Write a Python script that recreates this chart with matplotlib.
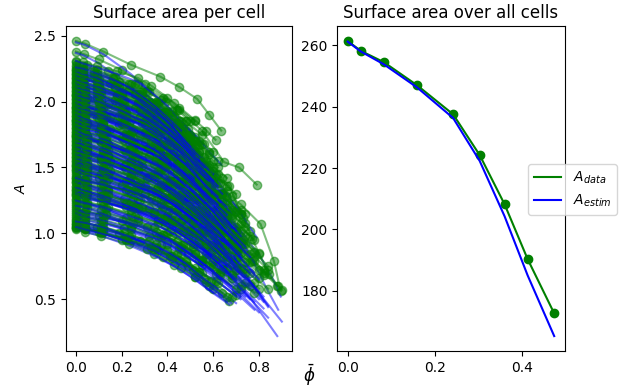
import matplotlib
matplotlib.use('Agg')
import matplotlib.pyplot as plt

# mean volume fraction and total surface area over all cells
phi_mean = [0.0, 0.03, 0.083, 0.159, 0.242, 0.303, 0.36, 0.413, 0.474]
A_total_data = [261.4, 258.2, 254.5, 247.0, 237.5, 224.2, 208.2, 190.3, 172.6]
A_total_estim = [261.2, 258.0, 253.8, 246.3, 236.3, 222.3, 204.3, 185.0, 165.2]

# per cell: phi, measured surface area, estimated surface area
cell_phi = [
    [0, .04, .11, .23, .34, .43, .52, .58, .67],
    [0, .04, .10, .20, .31, .38, .46, .52, .60],
    [0, .04, .12, .24, .36, .45, .54, .61, .70],
    [0, .03, .09, .19, .28, .35, .42, .48, .55],
    [0, .04, .12, .24, .37, .46, .55, .63, .72],
    [0, .04, .11, .21, .32, .40, .49, .55, .63],
    [0, .04, .13, .25, .38, .47, .57, .64, .74],
    [0, .04, .11, .22, .34, .42, .51, .57, .66],
    [0, .05, .14, .27, .41, .51, .62, .70, .80],
    [0, .04, .12, .24, .36, .45, .54, .61, .70],
    [0, .05, .13, .26, .39, .49, .59, .66, .76],
    [0, .04, .11, .21, .32, .40, .48, .54, .62],
    [0, .05, .14, .28, .42, .52, .63, .71, .82],
    [0, .04, .12, .24, .37, .46, .55, .63, .72],
    [0, .03, .10, .20, .30, .37, .45, .50, .58],
    [0, .05, .13, .27, .40, .50, .60, .68, .78],
    [0, .04, .12, .23, .35, .44, .52, .59, .68],
    [0, .05, .15, .30, .45, .56, .68, .77, .88],
    [0, .06, .15, .30, .45, .60, .72, .807, .865, .895],
    [0, .04, .13, .25, .38, .47, .57, .64, .74],
    [0, .04, .11, .21, .32, .40, .49, .55, .63],
    [0, .05, .15, .31, .46, .58, .69, .78, .90],
    [0, .04, .12, .24, .36, .45, .54, .61, .70],
    [0, .05, .15, .30, .45, .58, .72, .77, .843, .884],
    [0, .05, .14, .27, .41, .51, .62, .70, .80],
    [0, .04, .11, .22, .34, .42, .51, .57, .66],
    [0, .05, .14, .29, .43, .54, .65, .73, .84],
    [0, .05, .13, .26, .39, .49, .59, .655, .70],
    [0, .04, .12, .24, .37, .46, .55, .63, .72],
    [0, .04, .10, .20, .31, .38, .46, .52, .60],
    [0, .05, .13, .26, .39, .49, .59, .66, .76],
    [0, .04, .12, .23, .35, .44, .52, .59, .68],
    [0, .03, .09, .19, .28, .35, .42, .48, .55],
    [0, .05, .14, .28, .42, .52, .60, .67, .73],
    [0, .04, .13, .25, .38, .47, .57, .64, .74],
    [0, .04, .11, .21, .32, .40, .49, .55, .63],
    [0, .04, .12, .24, .36, .45, .54, .61, .70],
    [0, .03, .10, .20, .30, .37, .45, .50, .58],
    [0, .04, .11, .22, .34, .42, .51, .57, .66],
    [0, .05, .14, .27, .38, .45, .55, .648, .713, .79],
    [0, .03, .09, .17, .26, .32, .39, .44, .50],
    [0, .04, .11, .21, .32, .40, .48, .54, .62],
    [0, .03, .09, .19, .28, .35, .42, .48, .55],
    [0, .035, .10, .20, .30, .43, .52, .57, .61],
    [0, .04, .10, .20, .31, .38, .46, .52, .60],
    [0, .03, .08, .15, .23, .29, .35, .39, .45],
    [0, .03, .09, .19, .28, .35, .42, .48, .55],
    [0, .04, .12, .24, .368, .452, .53, .583, .635],
    [0, .03, .09, .17, .26, .32, .39, .44, .50],
    [0, .04, .11, .22, .33, .41, .49, .56, .64],
    [0, .04, .12, .23, .35, .44, .52, .59, .68],
    [0, .04, .12, .24, .36, .45, .54, .61, .70],
    [0, .04, .10, .20, .31, .38, .46, .52, .60],
    [0, .05, .13, .26, .39, .49, .59, .66, .76],
    [0, .04, .11, .22, .34, .42, .51, .57, .66],
    [0, .05, .13, .27, .40, .50, .60, .68, .78],
    [0, .04, .12, .24, .37, .46, .55, .63, .72],
    [0, .05, .14, .27, .41, .51, .62, .70, .80],
    [0, .04, .11, .22, .33, .41, .49, .56, .64],
    [0, .05, .13, .26, .39, .49, .59, .66, .76],
    [0, .04, .12, .24, .36, .45, .54, .61, .70],
    [0, .05, .14, .28, .42, .52, .63, .71, .82],
    [0, .04, .12, .24, .37, .46, .55, .63, .72],
    [0, .04, .11, .22, .34, .42, .51, .57, .66],
    [0, .05, .13, .27, .40, .50, .60, .68, .78],
    [0, .04, .12, .24, .36, .45, .54, .61, .70],
    [0, .05, .14, .29, .43, .54, .65, .73, .84],
    [0, .04, .13, .25, .38, .47, .57, .64, .74],
    [0, .04, .11, .21, .32, .40, .48, .54, .62],
    [0, .05, .13, .27, .40, .50, .60, .68, .78],
    [0, .04, .12, .23, .35, .44, .52, .59, .68],
    [0, .04, .13, .25, .38, .47, .57, .64, .74],
    [0, .04, .11, .22, .33, .41, .49, .56, .64],
    [0, .04, .12, .24, .37, .46, .55, .63, .72],
    [0, .04, .10, .20, .31, .38, .46, .52, .60],
    [0, .04, .12, .23, .35, .44, .52, .59, .68],
    [0, .04, .10, .19, .29, .36, .43, .49, .56],
    [0, .04, .11, .22, .34, .42, .51, .57, .66],
    [0, .04, .11, .21, .32, .40, .48, .54, .62],
    [0, .03, .09, .18, .28, .35, .42, .47, .54],
    [0, .04, .10, .20, .31, .38, .46, .52, .60],
    [0, .03, .09, .18, .27, .33, .40, .45, .52],
    [0, .03, .10, .20, .30, .37, .45, .50, .58],
    [0, .03, .09, .17, .26, .32, .39, .44, .50],
    [0, .03, .10, .19, .29, .36, .43, .49, .56],
    [0, .03, .08, .16, .24, .31, .37, .42, .48],
    [0, .03, .09, .18, .27, .33, .40, .45, .52],
    [0, .04, .11, .22, .34, .42, .51, .57, .66],
    [0, .04, .11, .21, .32, .40, .48, .54, .62],
    [0, .04, .12, .24, .37, .46, .55, .63, .72],
    [0, .04, .12, .23, .35, .44, .52, .59, .68],
    [0, .05, .13, .27, .40, .50, .60, .68, .78],
    [0, .04, .12, .24, .36, .45, .54, .61, .70],
    [0, .04, .13, .25, .38, .47, .57, .64, .74],
    [0, .04, .11, .22, .34, .42, .51, .57, .66],
    [0, .05, .14, .29, .43, .54, .65, .73, .84],
    [0, .04, .13, .25, .38, .47, .57, .64, .74],
    [0, .04, .12, .23, .35, .44, .52, .59, .68],
    [0, .05, .14, .27, .41, .51, .62, .70, .80],
    [0, .04, .11, .22, .33, .41, .49, .56, .64],
    [0, .05, .13, .26, .39, .49, .59, .66, .76],
    [0, .04, .12, .24, .36, .45, .54, .61, .70],
    [0, .05, .14, .28, .42, .52, .63, .71, .82],
    [0, .04, .12, .24, .37, .46, .55, .63, .72],
    [0, .04, .11, .22, .34, .42, .51, .57, .66],
    [0, .05, .14, .27, .41, .51, .62, .70, .80],
    [0, .04, .12, .24, .37, .46, .55, .63, .72],
    [0, .05, .13, .26, .39, .49, .59, .66, .76],
    [0, .04, .12, .23, .35, .44, .52, .59, .68],
    [0, .04, .13, .25, .38, .47, .57, .64, .74],
    [0, .04, .11, .21, .32, .40, .48, .54, .62],
    [0, .04, .12, .24, .36, .45, .54, .61, .70],
    [0, .04, .11, .22, .34, .42, .51, .57, .66],
    [0, .04, .12, .24, .37, .46, .55, .63, .72],
    [0, .04, .11, .21, .32, .40, .48, .54, .62],
    [0, .04, .11, .22, .34, .42, .51, .57, .66],
    [0, .03, .10, .20, .30, .37, .45, .50, .58],
    [0, .04, .11, .22, .33, .41, .49, .56, .64],
    [0, .04, .10, .20, .31, .38, .46, .52, .60],
    [0, .04, .10, .19, .29, .36, .43, .49, .56],
    [0, .04, .11, .21, .32, .40, .48, .54, .62],
    [0, .03, .09, .18, .27, .33, .40, .45, .52],
    [0, .03, .10, .20, .30, .37, .45, .50, .58],
    [0, .03, .09, .17, .26, .32, .39, .44, .50],
    [0, .03, .09, .18, .28, .35, .42, .47, .54],
    [0, .03, .08, .16, .23, .29, .35, .40, .46],
]
cell_A_data = [
    [1.03, 1.01, .98, .92, .84, .76, .67, .60, .49],
    [1.05, 1.04, 1.01, .95, .88, .82, .74, .67, .58],
    [1.06, 1.04, 1.01, .95, .87, .80, .71, .64, .53],
    [1.08, 1.07, 1.05, 1.00, .94, .89, .83, .78, .70],
    [1.10, 1.08, 1.05, .99, .91, .84, .76, .68, .58],
    [1.13, 1.12, 1.09, 1.04, .98, .92, .85, .79, .70],
    [1.19, 1.17, 1.14, 1.07, .99, .91, .81, .73, .62],
    [1.22, 1.21, 1.18, 1.12, 1.05, .98, .90, .84, .74],
    [1.26, 1.24, 1.20, 1.12, 1.02, .92, .81, .72, .58],
    [1.29, 1.28, 1.24, 1.18, 1.11, 1.04, .95, .88, .78],
    [1.33, 1.31, 1.27, 1.20, 1.10, 1.02, .91, .83, .70],
    [1.36, 1.35, 1.32, 1.26, 1.19, 1.13, 1.06, .99, .90],
    [1.40, 1.38, 1.34, 1.25, 1.14, 1.04, .93, .82, .68],
    [1.43, 1.41, 1.38, 1.31, 1.22, 1.14, 1.05, .97, .85],
    [1.46, 1.45, 1.42, 1.37, 1.31, 1.26, 1.19, 1.13, 1.05],
    [1.50, 1.48, 1.44, 1.36, 1.26, 1.16, 1.05, .96, .82],
    [1.53, 1.51, 1.48, 1.41, 1.33, 1.26, 1.17, 1.09, .98],
    [1.56, 1.53, 1.47, 1.36, 1.21, 1.08, .93, .79, .60],
    [1.95, 1.93, 1.88, 1.77, 1.60, 1.38, 1.22, 1.07, .79, .56],
    [1.59, 1.57, 1.53, 1.45, 1.35, 1.26, 1.15, 1.05, .92],
    [1.62, 1.60, 1.57, 1.51, 1.43, 1.36, 1.28, 1.20, 1.10],
    [1.65, 1.62, 1.55, 1.42, 1.26, 1.11, .94, .79, .57],
    [1.68, 1.66, 1.62, 1.55, 1.45, 1.37, 1.26, 1.18, 1.05],
    [1.85, 1.83, 1.79, 1.69, 1.54, 1.36, 1.18, .96, .69, .60],
    [1.71, 1.68, 1.63, 1.53, 1.40, 1.28, 1.14, 1.02, .85],
    [1.74, 1.72, 1.69, 1.62, 1.53, 1.45, 1.36, 1.28, 1.16],
    [1.77, 1.74, 1.68, 1.56, 1.40, 1.26, 1.10, .95, .75],
    [1.75, 1.73, 1.69, 1.61, 1.51, 1.42, 1.33, 1.28, 1.17],
    [1.80, 1.78, 1.74, 1.65, 1.54, 1.44, 1.33, 1.22, 1.08],
    [1.83, 1.81, 1.78, 1.72, 1.64, 1.57, 1.48, 1.41, 1.30],
    [1.86, 1.84, 1.78, 1.68, 1.56, 1.44, 1.31, 1.19, 1.02],
    [1.89, 1.87, 1.83, 1.75, 1.65, 1.56, 1.45, 1.35, 1.22],
    [1.92, 1.91, 1.88, 1.82, 1.75, 1.69, 1.61, 1.54, 1.45],
    [2.05, 2.03, 1.98, 1.88, 1.73, 1.60, 1.47, 1.36, 1.12],
    [1.95, 1.93, 1.88, 1.78, 1.66, 1.55, 1.42, 1.31, 1.15],
    [1.98, 1.96, 1.93, 1.85, 1.76, 1.68, 1.58, 1.50, 1.38],
    [2.01, 1.99, 1.95, 1.86, 1.75, 1.66, 1.54, 1.44, 1.30],
    [2.04, 2.02, 1.99, 1.93, 1.85, 1.78, 1.70, 1.62, 1.52],
    [2.07, 2.05, 2.01, 1.93, 1.84, 1.75, 1.64, 1.55, 1.42],
    [2.30, 2.28, 2.23, 2.13, 2.03, 1.94, 1.78, 1.54, 1.50, 1.37],
    [2.10, 2.09, 2.06, 2.01, 1.95, 1.89, 1.82, 1.76, 1.68],
    [2.13, 2.11, 2.08, 2.01, 1.92, 1.84, 1.75, 1.67, 1.55],
    [2.16, 2.15, 2.12, 2.06, 1.99, 1.92, 1.84, 1.78, 1.68],
    [2.38, 2.36, 2.32, 2.24, 2.13, 1.99, 1.86, 1.78, 1.71],
    [2.19, 2.17, 2.14, 2.07, 1.99, 1.91, 1.81, 1.73, 1.62],
    [2.22, 2.21, 2.19, 2.14, 2.09, 2.04, 1.98, 1.92, 1.85],
    [2.25, 2.24, 2.21, 2.15, 2.07, 2.00, 1.92, 1.85, 1.75],
    [2.46, 2.44, 2.38, 2.28, 2.19, 2.11, 2.02, 1.90, 1.78],
    [2.28, 2.27, 2.24, 2.19, 2.13, 2.07, 2.00, 1.94, 1.85],
    [1.04, 1.03, 1.00, .96, .90, .83, .75, .65, .55],
    [1.07, 1.05, 1.03, .98, .92, .84, .74, .64, .52],
    [1.12, 1.10, 1.08, 1.03, .97, .89, .80, .69, .58],
    [1.16, 1.15, 1.13, 1.09, 1.05, .99, .91, .84, .75],
    [1.24, 1.22, 1.19, 1.13, 1.06, .97, .86, .73, .60],
    [1.28, 1.27, 1.24, 1.20, 1.15, 1.08, .99, .90, .80],
    [1.31, 1.29, 1.26, 1.19, 1.12, 1.02, .90, .77, .62],
    [1.34, 1.32, 1.29, 1.24, 1.17, 1.09, .98, .87, .74],
    [1.38, 1.36, 1.32, 1.26, 1.18, 1.08, .95, .81, .66],
    [1.41, 1.40, 1.37, 1.33, 1.27, 1.20, 1.12, 1.02, .92],
    [1.44, 1.42, 1.39, 1.33, 1.26, 1.16, 1.04, .92, .78],
    [1.48, 1.46, 1.43, 1.38, 1.32, 1.24, 1.13, 1.02, .90],
    [1.51, 1.49, 1.45, 1.37, 1.28, 1.17, 1.02, .87, .70],
    [1.55, 1.53, 1.50, 1.44, 1.37, 1.29, 1.17, 1.05, .92],
    [1.58, 1.56, 1.54, 1.49, 1.43, 1.36, 1.26, 1.16, 1.05],
    [1.61, 1.59, 1.55, 1.48, 1.40, 1.30, 1.16, 1.02, .86],
    [1.64, 1.62, 1.59, 1.53, 1.47, 1.38, 1.27, 1.15, 1.02],
    [1.67, 1.64, 1.59, 1.51, 1.40, 1.27, 1.10, .92, .72],
    [1.70, 1.68, 1.64, 1.58, 1.50, 1.40, 1.27, 1.13, .98],
    [1.73, 1.72, 1.69, 1.64, 1.59, 1.52, 1.42, 1.33, 1.22],
    [1.76, 1.74, 1.70, 1.62, 1.53, 1.42, 1.27, 1.12, .95],
    [1.79, 1.77, 1.74, 1.69, 1.62, 1.53, 1.42, 1.31, 1.18],
    [1.82, 1.80, 1.76, 1.69, 1.61, 1.51, 1.38, 1.24, 1.08],
    [1.85, 1.83, 1.81, 1.76, 1.70, 1.62, 1.52, 1.42, 1.30],
    [1.88, 1.86, 1.82, 1.76, 1.68, 1.57, 1.44, 1.30, 1.15],
    [1.91, 1.90, 1.87, 1.83, 1.77, 1.70, 1.62, 1.52, 1.42],
    [1.94, 1.92, 1.89, 1.83, 1.76, 1.66, 1.54, 1.42, 1.28],
    [1.97, 1.96, 1.93, 1.89, 1.84, 1.78, 1.70, 1.61, 1.52],
    [2.00, 1.98, 1.95, 1.89, 1.82, 1.73, 1.62, 1.49, 1.36],
    [2.03, 2.01, 1.98, 1.93, 1.87, 1.79, 1.68, 1.57, 1.45],
    [2.06, 2.05, 2.03, 1.99, 1.94, 1.88, 1.80, 1.71, 1.62],
    [2.09, 2.07, 2.05, 2.00, 1.94, 1.86, 1.77, 1.66, 1.55],
    [2.12, 2.11, 2.09, 2.05, 2.00, 1.94, 1.87, 1.79, 1.70],
    [2.15, 2.13, 2.11, 2.06, 2.00, 1.93, 1.83, 1.73, 1.62],
    [2.18, 2.17, 2.15, 2.11, 2.06, 2.00, 1.92, 1.84, 1.75],
    [2.21, 2.19, 2.17, 2.12, 2.06, 1.99, 1.89, 1.79, 1.68],
    [2.24, 2.23, 2.21, 2.17, 2.13, 2.08, 2.01, 1.93, 1.85],
    [2.31, 2.30, 2.27, 2.23, 2.18, 2.12, 2.03, 1.95, 1.85],
    [1.05, 1.03, 1.01, .95, .88, .81, .72, .63, .52],
    [1.09, 1.08, 1.05, 1.00, .94, .87, .79, .71, .62],
    [1.15, 1.13, 1.10, 1.05, .97, .90, .80, .71, .60],
    [1.18, 1.16, 1.14, 1.08, 1.01, .94, .85, .76, .66],
    [1.21, 1.19, 1.15, 1.09, 1.00, .91, .79, .68, .55],
    [1.25, 1.23, 1.21, 1.15, 1.08, 1.01, .92, .83, .72],
    [1.30, 1.28, 1.25, 1.19, 1.11, 1.02, .92, .82, .70],
    [1.32, 1.31, 1.28, 1.23, 1.16, 1.09, 1.01, .92, .82],
    [1.35, 1.33, 1.29, 1.20, 1.10, 1.00, .87, .73, .58],
    [1.39, 1.37, 1.34, 1.27, 1.20, 1.11, 1.01, .90, .78],
    [1.42, 1.40, 1.37, 1.32, 1.25, 1.17, 1.08, .99, .88],
    [1.47, 1.45, 1.41, 1.33, 1.23, 1.13, 1.00, .87, .72],
    [1.49, 1.48, 1.45, 1.40, 1.33, 1.27, 1.18, 1.10, 1.00],
    [1.52, 1.50, 1.46, 1.39, 1.30, 1.21, 1.09, .98, .84],
    [1.54, 1.52, 1.49, 1.43, 1.35, 1.27, 1.17, 1.07, .95],
    [1.57, 1.54, 1.50, 1.41, 1.30, 1.18, 1.03, .89, .72],
    [1.60, 1.58, 1.55, 1.48, 1.39, 1.30, 1.19, 1.08, .95],
    [1.63, 1.61, 1.58, 1.53, 1.45, 1.38, 1.28, 1.19, 1.08],
    [1.66, 1.64, 1.59, 1.50, 1.40, 1.28, 1.14, 1.00, .84],
    [1.69, 1.67, 1.63, 1.56, 1.48, 1.38, 1.27, 1.15, 1.02],
    [1.72, 1.70, 1.66, 1.58, 1.48, 1.38, 1.25, 1.13, .98],
    [1.75, 1.73, 1.70, 1.63, 1.55, 1.47, 1.37, 1.26, 1.14],
    [1.78, 1.76, 1.72, 1.64, 1.55, 1.44, 1.32, 1.20, 1.05],
    [1.81, 1.80, 1.77, 1.71, 1.65, 1.58, 1.49, 1.40, 1.30],
    [1.84, 1.82, 1.78, 1.71, 1.62, 1.53, 1.41, 1.30, 1.16],
    [1.87, 1.85, 1.82, 1.75, 1.67, 1.59, 1.48, 1.37, 1.25],
    [1.90, 1.88, 1.84, 1.76, 1.66, 1.56, 1.43, 1.30, 1.15],
    [1.93, 1.91, 1.88, 1.83, 1.75, 1.68, 1.58, 1.49, 1.38],
    [1.96, 1.94, 1.91, 1.84, 1.76, 1.67, 1.56, 1.45, 1.32],
    [1.99, 1.98, 1.95, 1.89, 1.83, 1.76, 1.67, 1.58, 1.48],
    [2.02, 2.00, 1.97, 1.91, 1.83, 1.74, 1.64, 1.54, 1.42],
    [2.05, 2.03, 2.00, 1.95, 1.87, 1.80, 1.70, 1.61, 1.50],
    [2.08, 2.07, 2.04, 1.99, 1.92, 1.85, 1.77, 1.68, 1.58],
    [2.11, 2.09, 2.06, 1.99, 1.92, 1.83, 1.73, 1.62, 1.50],
    [2.14, 2.13, 2.10, 2.05, 1.99, 1.93, 1.85, 1.77, 1.68],
    [2.17, 2.15, 2.12, 2.06, 1.99, 1.91, 1.81, 1.71, 1.60],
    [2.20, 2.19, 2.16, 2.11, 2.06, 1.99, 1.92, 1.84, 1.75],
    [2.23, 2.21, 2.19, 2.13, 2.06, 1.99, 1.90, 1.81, 1.70],
    [2.26, 2.25, 2.23, 2.18, 2.13, 2.07, 2.00, 1.93, 1.85],
]
cell_A_estim = [
    [1.03, 1.01, .98, .91, .83, .75, .65, .57, .46],
    [1.05, 1.04, 1.01, .95, .87, .80, .72, .65, .55],
    [1.06, 1.04, 1.01, .94, .85, .77, .67, .59, .47],
    [1.08, 1.07, 1.04, 1.00, .94, .88, .82, .76, .68],
    [1.10, 1.08, 1.05, .97, .88, .80, .70, .62, .50],
    [1.13, 1.12, 1.09, 1.03, .96, .90, .82, .75, .66],
    [1.19, 1.17, 1.13, 1.05, .95, .86, .75, .65, .52],
    [1.22, 1.20, 1.17, 1.11, 1.03, .95, .86, .79, .68],
    [1.26, 1.23, 1.18, 1.08, .95, .83, .69, .57, .40],
    [1.29, 1.27, 1.24, 1.17, 1.08, 1.00, .90, .82, .70],
    [1.33, 1.31, 1.26, 1.17, 1.06, .96, .84, .73, .58],
    [1.36, 1.35, 1.31, 1.25, 1.18, 1.11, 1.02, .95, .85],
    [1.40, 1.37, 1.31, 1.20, 1.05, .92, .76, .62, .43],
    [1.43, 1.41, 1.37, 1.29, 1.19, 1.09, .98, .89, .75],
    [1.46, 1.45, 1.42, 1.36, 1.29, 1.23, 1.16, 1.09, 1.00],
    [1.50, 1.47, 1.42, 1.32, 1.20, 1.08, .95, .83, .66],
    [1.53, 1.51, 1.47, 1.40, 1.30, 1.22, 1.11, 1.03, .90],
    [1.56, 1.52, 1.44, 1.28, 1.08, .89, .68, .49, .22],
    [1.94, 1.92, 1.86, 1.73, 1.53, 1.26, 1.02, .82, .64, .52],
    [1.59, 1.57, 1.52, 1.42, 1.31, 1.20, 1.07, .96, .80],
    [1.62, 1.60, 1.57, 1.50, 1.41, 1.33, 1.24, 1.16, 1.04],
    [1.65, 1.61, 1.53, 1.37, 1.18, .99, .78, .59, .33],
    [1.68, 1.66, 1.61, 1.53, 1.42, 1.32, 1.20, 1.10, .95],
    [1.84, 1.82, 1.77, 1.64, 1.45, 1.23, .96, .80, .55, .42],
    [1.71, 1.68, 1.61, 1.49, 1.33, 1.18, 1.00, .85, .64],
    [1.74, 1.72, 1.68, 1.60, 1.50, 1.41, 1.30, 1.21, 1.08],
    [1.77, 1.73, 1.65, 1.49, 1.29, 1.11, .89, .71, .44],
    [1.74, 1.72, 1.67, 1.56, 1.41, 1.28, 1.12, 1.01, .92],
    [1.80, 1.77, 1.72, 1.62, 1.49, 1.38, 1.24, 1.12, .95],
    [1.83, 1.81, 1.78, 1.71, 1.62, 1.54, 1.44, 1.36, 1.24],
    [1.86, 1.83, 1.77, 1.65, 1.50, 1.36, 1.19, 1.05, .85],
    [1.89, 1.87, 1.82, 1.73, 1.61, 1.51, 1.38, 1.27, 1.12],
    [1.92, 1.90, 1.87, 1.81, 1.73, 1.66, 1.58, 1.50, 1.40],
    [2.04, 2.02, 1.96, 1.83, 1.64, 1.47, 1.31, 1.15, .98],
    [1.95, 1.92, 1.86, 1.75, 1.60, 1.47, 1.31, 1.17, .98],
    [1.98, 1.96, 1.92, 1.83, 1.73, 1.63, 1.52, 1.42, 1.28],
    [2.01, 1.98, 1.93, 1.83, 1.70, 1.58, 1.44, 1.32, 1.15],
    [2.04, 2.02, 1.99, 1.92, 1.83, 1.75, 1.65, 1.57, 1.45],
    [2.07, 2.05, 2.00, 1.91, 1.79, 1.69, 1.56, 1.45, 1.30],
    [2.29, 2.27, 2.20, 2.06, 1.89, 1.77, 1.57, 1.33, 1.17, .97],
    [2.10, 2.09, 2.06, 2.00, 1.93, 1.86, 1.78, 1.72, 1.62],
    [2.13, 2.11, 2.07, 1.99, 1.88, 1.79, 1.68, 1.58, 1.44],
    [2.16, 2.14, 2.11, 2.04, 1.95, 1.87, 1.78, 1.70, 1.58],
    [2.37, 2.35, 2.29, 2.17, 2.02, 1.78, 1.60, 1.50, 1.42],
    [2.19, 2.17, 2.13, 2.04, 1.93, 1.84, 1.72, 1.62, 1.48],
    [2.22, 2.21, 2.18, 2.13, 2.07, 2.01, 1.94, 1.88, 1.80],
    [2.25, 2.23, 2.19, 2.11, 2.02, 1.93, 1.82, 1.73, 1.60],
    [2.45, 2.43, 2.36, 2.21, 2.01, 1.87, 1.73, 1.62, 1.52],
    [2.28, 2.26, 2.23, 2.16, 2.08, 2.00, 1.91, 1.83, 1.72],
    [1.04, 1.02, 1.00, .95, .89, .82, .73, .63, .52],
    [1.07, 1.05, 1.02, .97, .90, .82, .71, .60, .47],
    [1.12, 1.10, 1.07, 1.02, .95, .87, .76, .65, .52],
    [1.16, 1.15, 1.12, 1.09, 1.04, .98, .90, .81, .72],
    [1.24, 1.22, 1.18, 1.11, 1.03, .93, .80, .66, .50],
    [1.28, 1.26, 1.24, 1.19, 1.13, 1.06, .96, .86, .75],
    [1.31, 1.29, 1.24, 1.17, 1.08, .96, .81, .65, .48],
    [1.34, 1.32, 1.29, 1.22, 1.15, 1.05, .93, .80, .66],
    [1.38, 1.35, 1.31, 1.23, 1.13, 1.01, .85, .69, .50],
    [1.41, 1.39, 1.37, 1.32, 1.26, 1.19, 1.09, .99, .88],
    [1.44, 1.42, 1.38, 1.31, 1.22, 1.11, .97, .82, .66],
    [1.48, 1.46, 1.43, 1.37, 1.30, 1.20, 1.08, .96, .82],
    [1.51, 1.48, 1.43, 1.33, 1.22, 1.08, .89, .70, .48],
    [1.55, 1.53, 1.49, 1.43, 1.35, 1.24, 1.11, .97, .82],
    [1.58, 1.56, 1.53, 1.48, 1.41, 1.33, 1.22, 1.11, .98],
    [1.61, 1.58, 1.54, 1.46, 1.36, 1.23, 1.06, .89, .70],
    [1.64, 1.62, 1.58, 1.52, 1.44, 1.34, 1.21, 1.07, .92],
    [1.67, 1.63, 1.57, 1.46, 1.33, 1.16, .94, .71, .45],
    [1.70, 1.67, 1.63, 1.56, 1.46, 1.34, 1.19, 1.03, .85],
    [1.73, 1.71, 1.68, 1.63, 1.57, 1.49, 1.38, 1.27, 1.15],
    [1.76, 1.73, 1.68, 1.59, 1.49, 1.35, 1.17, .99, .78],
    [1.79, 1.77, 1.73, 1.67, 1.59, 1.49, 1.36, 1.23, 1.08],
    [1.82, 1.79, 1.75, 1.67, 1.57, 1.45, 1.29, 1.13, .94],
    [1.85, 1.83, 1.80, 1.74, 1.67, 1.59, 1.47, 1.35, 1.22],
    [1.88, 1.85, 1.81, 1.73, 1.63, 1.51, 1.35, 1.19, 1.00],
    [1.91, 1.89, 1.87, 1.82, 1.75, 1.68, 1.57, 1.47, 1.35],
    [1.94, 1.92, 1.88, 1.81, 1.72, 1.61, 1.47, 1.32, 1.15],
    [1.97, 1.96, 1.93, 1.88, 1.83, 1.76, 1.66, 1.57, 1.46],
    [2.00, 1.98, 1.94, 1.87, 1.79, 1.68, 1.54, 1.40, 1.24],
    [2.03, 2.01, 1.98, 1.91, 1.84, 1.74, 1.62, 1.49, 1.35],
    [2.06, 2.05, 2.02, 1.97, 1.92, 1.85, 1.75, 1.66, 1.55],
    [2.09, 2.07, 2.04, 1.98, 1.91, 1.82, 1.71, 1.58, 1.45],
    [2.12, 2.11, 2.08, 2.04, 1.98, 1.91, 1.83, 1.73, 1.63],
    [2.15, 2.13, 2.10, 2.04, 1.97, 1.88, 1.76, 1.64, 1.50],
    [2.18, 2.17, 2.14, 2.10, 2.04, 1.97, 1.88, 1.79, 1.68],
    [2.21, 2.19, 2.16, 2.10, 2.03, 1.94, 1.82, 1.70, 1.56],
    [2.24, 2.23, 2.20, 2.16, 2.11, 2.05, 1.96, 1.88, 1.78],
    [2.31, 2.29, 2.26, 2.21, 2.15, 2.07, 1.97, 1.86, 1.74],
    [1.05, 1.03, 1.00, .94, .87, .79, .69, .59, .48],
    [1.09, 1.08, 1.05, .99, .93, .86, .77, .68, .58],
    [1.15, 1.13, 1.10, 1.03, .95, .86, .75, .65, .52],
    [1.18, 1.16, 1.13, 1.07, .99, .91, .82, .72, .60],
    [1.21, 1.19, 1.14, 1.06, .96, .85, .71, .58, .42],
    [1.25, 1.23, 1.20, 1.13, 1.06, .97, .87, .76, .64],
    [1.30, 1.28, 1.24, 1.17, 1.08, .98, .86, .74, .60],
    [1.32, 1.30, 1.27, 1.21, 1.14, 1.06, .97, .87, .76],
    [1.35, 1.32, 1.27, 1.16, 1.03, .89, .73, .56, .36],
    [1.39, 1.37, 1.33, 1.25, 1.16, 1.05, .93, .81, .66],
    [1.42, 1.40, 1.37, 1.30, 1.22, 1.14, 1.03, .92, .80],
    [1.47, 1.44, 1.39, 1.30, 1.18, 1.05, .89, .73, .55],
    [1.49, 1.47, 1.44, 1.39, 1.31, 1.24, 1.14, 1.05, .94],
    [1.52, 1.50, 1.45, 1.36, 1.26, 1.14, 1.00, .86, .70],
    [1.54, 1.52, 1.48, 1.41, 1.32, 1.22, 1.11, .99, .85],
    [1.57, 1.54, 1.48, 1.37, 1.23, 1.09, .91, .73, .52],
    [1.60, 1.58, 1.54, 1.46, 1.36, 1.25, 1.12, .99, .84],
    [1.63, 1.61, 1.58, 1.51, 1.43, 1.34, 1.23, 1.13, 1.00],
    [1.66, 1.63, 1.57, 1.47, 1.34, 1.20, 1.02, .85, .65],
    [1.69, 1.67, 1.62, 1.54, 1.44, 1.33, 1.19, 1.06, .90],
    [1.72, 1.69, 1.64, 1.55, 1.43, 1.31, 1.15, 1.00, .82],
    [1.75, 1.73, 1.69, 1.61, 1.52, 1.42, 1.30, 1.18, 1.04],
    [1.78, 1.75, 1.71, 1.61, 1.50, 1.38, 1.23, 1.08, .90],
    [1.81, 1.79, 1.76, 1.70, 1.62, 1.54, 1.44, 1.34, 1.22],
    [1.84, 1.82, 1.77, 1.68, 1.58, 1.46, 1.32, 1.18, 1.02],
    [1.87, 1.85, 1.81, 1.73, 1.64, 1.53, 1.41, 1.29, 1.14],
    [1.90, 1.87, 1.82, 1.73, 1.61, 1.48, 1.32, 1.16, .98],
    [1.93, 1.91, 1.88, 1.81, 1.72, 1.63, 1.52, 1.41, 1.28],
    [1.96, 1.94, 1.90, 1.82, 1.72, 1.61, 1.48, 1.35, 1.20],
    [1.99, 1.97, 1.94, 1.88, 1.80, 1.72, 1.62, 1.52, 1.40],
    [2.02, 2.00, 1.96, 1.88, 1.79, 1.69, 1.57, 1.44, 1.30],
    [2.05, 2.03, 2.00, 1.93, 1.84, 1.75, 1.64, 1.53, 1.40],
    [2.08, 2.06, 2.03, 1.97, 1.89, 1.81, 1.72, 1.62, 1.50],
    [2.11, 2.09, 2.05, 1.97, 1.87, 1.77, 1.64, 1.51, 1.36],
    [2.14, 2.12, 2.09, 2.04, 1.97, 1.89, 1.80, 1.71, 1.60],
    [2.17, 2.15, 2.11, 2.04, 1.95, 1.85, 1.73, 1.62, 1.48],
    [2.20, 2.18, 2.15, 2.10, 2.03, 1.95, 1.86, 1.77, 1.66],
    [2.23, 2.21, 2.18, 2.11, 2.02, 1.93, 1.82, 1.71, 1.58],
    [2.26, 2.25, 2.22, 2.17, 2.11, 2.04, 1.96, 1.88, 1.78],
]


def plot():
    fig = plt.figure(figsize=(6.19, 3.92), dpi=100)
    ax1 = fig.add_axes([0.106, 0.105, 0.366, 0.828])
    ax2 = fig.add_axes([0.545, 0.105, 0.367, 0.828])

    for phi, a_dat, a_est in zip(cell_phi, cell_A_data, cell_A_estim):
        ax1.plot(phi, a_dat, 'o-', color='g', alpha=0.5)
        ax1.plot(phi, a_est, '-', color='b', alpha=0.5)
    ax1.set_title('Surface area per cell')
    ax1.set_ylabel('$A$')

    ax2.plot(phi_mean, A_total_data, '-', color='g', label='$A_{data}$')
    ax2.plot(phi_mean, A_total_data, 'o', color='g')
    ax2.plot(phi_mean, A_total_estim, '-', color='b', label='$A_{estim}$')
    ax2.set_title('Surface area over all cells')
    ax2.legend(loc='center left', bbox_to_anchor=(0.842, 0.517),
               bbox_transform=fig.transFigure)

    fig.supxlabel(r'$\bar{\phi}$')
    fig.savefig('out.png', dpi=100)


if __name__ == '__main__':
    plot()
